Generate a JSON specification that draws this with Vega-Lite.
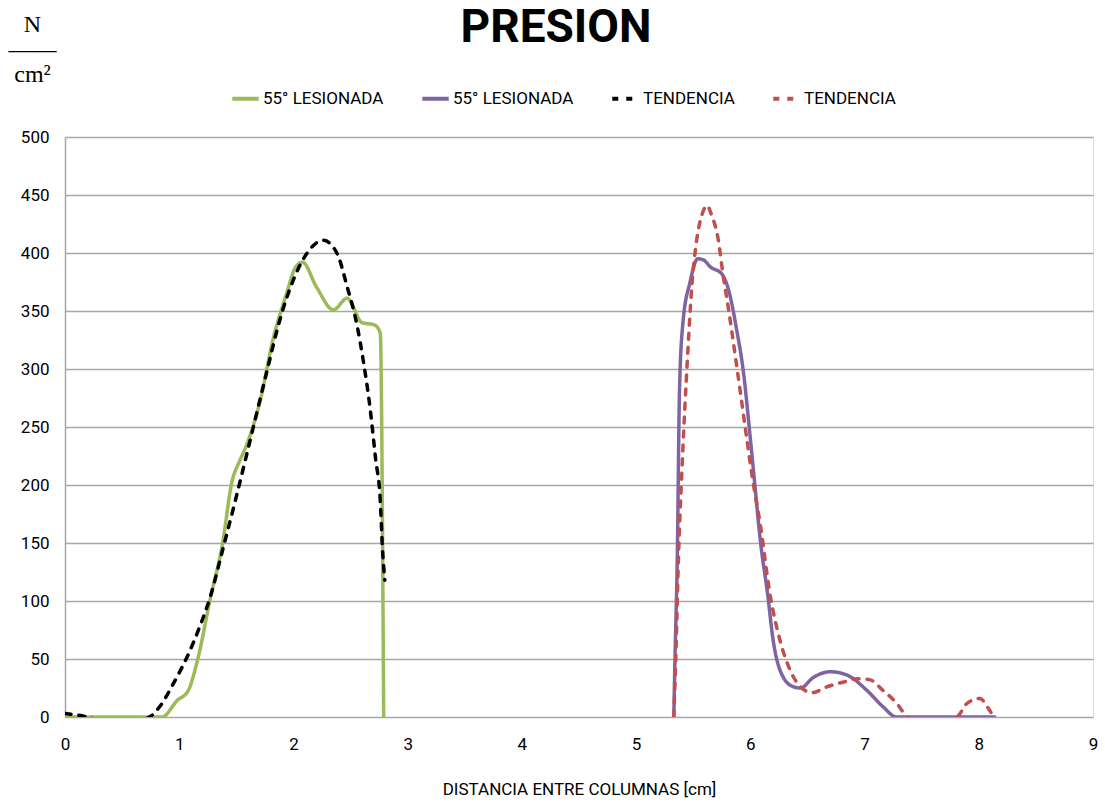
{
  "$schema": "https://vega.github.io/schema/vega-lite/v6.json",
  "width": 1028,
  "height": 580,
  "autosize": {"type": "none"},
  "padding": {"left": 65, "top": 137, "right": 12, "bottom": 89},
  "background": "white",
  "title": {
    "text": "PRESION",
    "font": "Roboto",
    "fontSize": 46,
    "fontWeight": "bold",
    "color": "#000000",
    "anchor": "middle",
    "frame": "group",
    "orient": "top",
    "offset": -40,
    "dx": -23
  },
  "data": {
    "values": [
      {"s": "A", "x": 0, "y": 0},
      {"s": "A", "x": 0.85, "y": 0},
      {"s": "A", "x": 0.98, "y": 14},
      {"s": "A", "x": 1.08, "y": 23},
      {"s": "A", "x": 1.16, "y": 49},
      {"s": "A", "x": 1.27, "y": 101},
      {"s": "A", "x": 1.38, "y": 150},
      {"s": "A", "x": 1.46, "y": 202},
      {"s": "A", "x": 1.53, "y": 221},
      {"s": "A", "x": 1.58, "y": 232},
      {"s": "A", "x": 1.71, "y": 273},
      {"s": "A", "x": 1.82, "y": 325},
      {"s": "A", "x": 1.94, "y": 365},
      {"s": "A", "x": 2.02, "y": 388},
      {"s": "A", "x": 2.08, "y": 392},
      {"s": "A", "x": 2.2, "y": 371},
      {"s": "A", "x": 2.35, "y": 351},
      {"s": "A", "x": 2.47, "y": 361},
      {"s": "A", "x": 2.6, "y": 340},
      {"s": "A", "x": 2.71, "y": 338},
      {"s": "A", "x": 2.76, "y": 331},
      {"s": "A", "x": 2.79, "y": 0},
      {"s": "B", "x": 5.33, "y": 0},
      {"s": "B", "x": 5.34, "y": 49},
      {"s": "B", "x": 5.36, "y": 135},
      {"s": "B", "x": 5.38, "y": 282},
      {"s": "B", "x": 5.41, "y": 340},
      {"s": "B", "x": 5.47, "y": 374},
      {"s": "B", "x": 5.54, "y": 395},
      {"s": "B", "x": 5.59, "y": 394},
      {"s": "B", "x": 5.65, "y": 388},
      {"s": "B", "x": 5.75, "y": 382},
      {"s": "B", "x": 5.81, "y": 368},
      {"s": "B", "x": 5.88, "y": 334},
      {"s": "B", "x": 5.94, "y": 297},
      {"s": "B", "x": 6.0, "y": 240},
      {"s": "B", "x": 6.03, "y": 210},
      {"s": "B", "x": 6.09, "y": 150},
      {"s": "B", "x": 6.15, "y": 107},
      {"s": "B", "x": 6.2, "y": 66},
      {"s": "B", "x": 6.29, "y": 34},
      {"s": "B", "x": 6.38, "y": 26},
      {"s": "B", "x": 6.44, "y": 25},
      {"s": "B", "x": 6.55, "y": 34},
      {"s": "B", "x": 6.7, "y": 39},
      {"s": "B", "x": 6.85, "y": 36},
      {"s": "B", "x": 7.02, "y": 23},
      {"s": "B", "x": 7.16, "y": 9},
      {"s": "B", "x": 7.28, "y": 0},
      {"s": "B", "x": 8.14, "y": 0},
      {"s": "C", "x": 0, "y": 3},
      {"s": "C", "x": 0.2, "y": 0},
      {"s": "C", "x": 0.35, "y": -4},
      {"s": "C", "x": 0.55, "y": -5},
      {"s": "C", "x": 0.74, "y": 0},
      {"s": "C", "x": 0.83, "y": 9},
      {"s": "C", "x": 0.95, "y": 29},
      {"s": "C", "x": 1.07, "y": 52},
      {"s": "C", "x": 1.18, "y": 78},
      {"s": "C", "x": 1.27, "y": 103},
      {"s": "C", "x": 1.38, "y": 144},
      {"s": "C", "x": 1.5, "y": 190},
      {"s": "C", "x": 1.59, "y": 226},
      {"s": "C", "x": 1.77, "y": 299},
      {"s": "C", "x": 1.88, "y": 342},
      {"s": "C", "x": 2.0, "y": 377},
      {"s": "C", "x": 2.12, "y": 400},
      {"s": "C", "x": 2.26, "y": 411},
      {"s": "C", "x": 2.38, "y": 400},
      {"s": "C", "x": 2.47, "y": 371},
      {"s": "C", "x": 2.56, "y": 336},
      {"s": "C", "x": 2.61, "y": 308},
      {"s": "C", "x": 2.67, "y": 267},
      {"s": "C", "x": 2.72, "y": 222},
      {"s": "C", "x": 2.76, "y": 187},
      {"s": "C", "x": 2.78, "y": 144},
      {"s": "C", "x": 2.8, "y": 118},
      {"s": "D", "x": 5.33, "y": 0},
      {"s": "D", "x": 5.35, "y": 60},
      {"s": "D", "x": 5.37, "y": 135},
      {"s": "D", "x": 5.4, "y": 210},
      {"s": "D", "x": 5.45, "y": 310},
      {"s": "D", "x": 5.49, "y": 374},
      {"s": "D", "x": 5.53, "y": 411},
      {"s": "D", "x": 5.58, "y": 434},
      {"s": "D", "x": 5.62, "y": 441},
      {"s": "D", "x": 5.66, "y": 433},
      {"s": "D", "x": 5.72, "y": 411},
      {"s": "D", "x": 5.76, "y": 382},
      {"s": "D", "x": 5.81, "y": 351},
      {"s": "D", "x": 5.87, "y": 310},
      {"s": "D", "x": 5.91, "y": 282},
      {"s": "D", "x": 5.97, "y": 239},
      {"s": "D", "x": 6.02, "y": 205},
      {"s": "D", "x": 6.09, "y": 164},
      {"s": "D", "x": 6.17, "y": 107},
      {"s": "D", "x": 6.26, "y": 66},
      {"s": "D", "x": 6.35, "y": 40},
      {"s": "D", "x": 6.44, "y": 26},
      {"s": "D", "x": 6.54, "y": 21},
      {"s": "D", "x": 6.67, "y": 26},
      {"s": "D", "x": 6.81, "y": 30},
      {"s": "D", "x": 6.94, "y": 33},
      {"s": "D", "x": 7.05, "y": 32},
      {"s": "D", "x": 7.16, "y": 23},
      {"s": "D", "x": 7.28, "y": 12},
      {"s": "D", "x": 7.37, "y": 0},
      {"s": "D", "x": 7.5, "y": -8},
      {"s": "D", "x": 7.65, "y": -6},
      {"s": "D", "x": 7.81, "y": 0},
      {"s": "D", "x": 7.9, "y": 12},
      {"s": "D", "x": 8.01, "y": 16},
      {"s": "D", "x": 8.08, "y": 8},
      {"s": "D", "x": 8.13, "y": 0}
    ]
  },
  "mark": {"type": "line", "interpolate": "monotone", "strokeWidth": 3.5, "clip": true, "strokeCap": "round"},
  "encoding": {
    "x": {
      "field": "x", "type": "quantitative",
      "scale": {"domain": [0, 9], "nice": false, "zero": false},
      "axis": {
        "values": [0, 1, 2, 3, 4, 5, 6, 7, 8, 9],
        "grid": false, "ticks": false, "domain": false,
        "labelFont": "Roboto", "labelFontSize": 17, "labelColor": "#000000",
        "labelPadding": 19, "labelFlush": false,
        "title": "DISTANCIA  ENTRE COLUMNAS [cm]",
        "titleFont": "Roboto", "titleFontSize": 17, "titleFontWeight": "normal", "titleColor": "#000000",
        "titlePadding": 29
      }
    },
    "y": {
      "field": "y", "type": "quantitative",
      "scale": {"domain": [0, 500], "nice": false, "zero": false},
      "axis": {
        "values": [0, 50, 100, 150, 200, 250, 300, 350, 400, 450, 500],
        "grid": true, "gridColor": "#A6A6A6", "gridWidth": 1.5,
        "ticks": false, "domain": true, "domainColor": "#A6A6A6", "domainWidth": 1.5,
        "labelFont": "Roboto", "labelFontSize": 17, "labelColor": "#000000",
        "labelPadding": 16,
        "title": ["N", "——", "cm²"],
        "titleFont": "Liberation Serif", "titleFontSize": 24, "titleFontWeight": "normal", "titleColor": "#000000",
        "titleAngle": 0, "titleAlign": "center", "titleBaseline": "top",
        "titleLineHeight": 25,
        "titleX": -33, "titleY": -125
      }
    },
    "color": {
      "field": "s", "type": "nominal",
      "scale": {"domain": ["A", "B", "C", "D"], "range": ["#9BBB59", "#8064A2", "#000000", "#C0504D"]},
      "legend": {
        "orient": "none", "direction": "horizontal",
        "legendX": 165, "legendY": -54,
        "title": null,
        "labelExpr": "datum.value == 'A' || datum.value == 'B' ? '55° LESIONADA' : 'TENDENCIA'",
        "labelFont": "Roboto", "labelFontSize": 17, "labelColor": "#000000",
        "labelOffset": 2,
        "symbolType": "stroke", "symbolSize": 700, "symbolStrokeWidth": 4,
        "columnPadding": 30
      }
    },
    "strokeDash": {
      "field": "s", "type": "nominal",
      "scale": {"domain": ["A", "B", "C", "D"], "range": [[1, 0], [1, 0], [6, 8], [6, 8]]},
      "legend": null
    }
  }
}
